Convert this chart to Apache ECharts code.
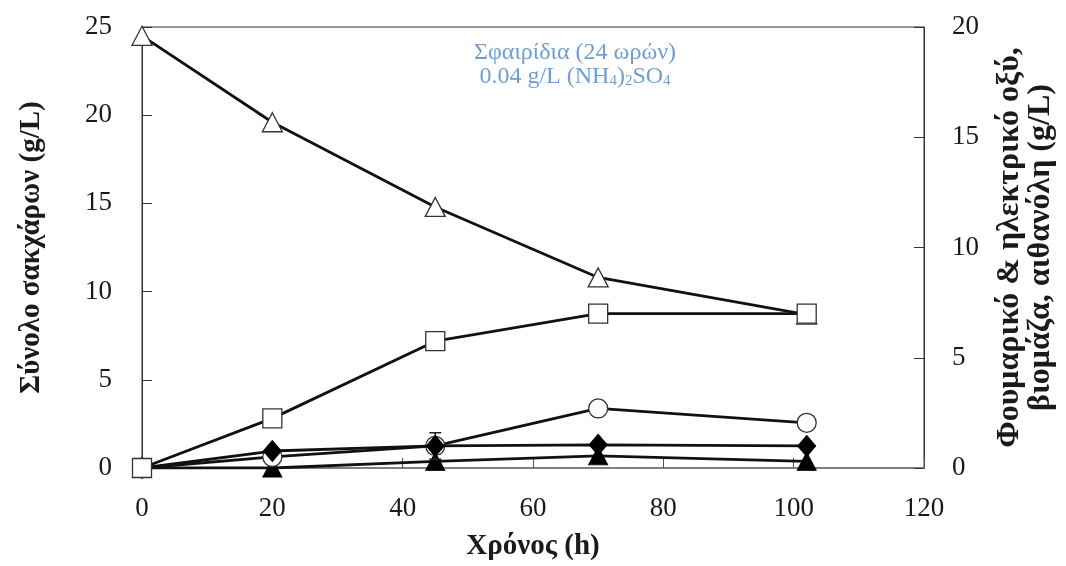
<!DOCTYPE html>
<html>
<head>
<meta charset="utf-8">
<script src="https://cdn.jsdelivr.net/npm/echarts@6/dist/echarts.min.js"></script>
<style>html,body{margin:0;padding:0;background:#fff;}#c{width:1066px;height:566px;}</style>
</head>
<body>
<div id="c"></div>
<script>
// Time points (h)
const timeH = [0, 20, 45, 70, 102];
// Left axis: total sugars (g/L) – open triangles
const totalSugars = [24.5, 19.6, 14.8, 10.8, 8.7];
// Right axis series (g/L)
const squaresSeries = [0, 2.25, 5.75, 7.0, 7.0];     // open squares
const circlesSeries = [0, 0.5, 1.0, 2.7, 2.05];      // open circles
const circlesErr = [0, 0, 0.6, 0, 0];                // error bars on circles
const diamondsSeries = [0, 0.77, 1.0, 1.05, 1.0];    // filled diamonds
const trianglesFilled = [0, 0, 0.3, 0.55, 0.3];      // filled triangles
// Ticks
const xTicks = {min: 0, max: 120, interval: 20};
const yLeftTicks = {min: 0, max: 25, interval: 5};
const yRightTicks = {min: 0, max: 20, interval: 5};

const pair = (xs, ys) => xs.map((x, i) => [x, ys[i]]);
const serif = 'Liberation Serif';
const lineCol = '#111';
const txt = '#1a1a1a';

const chart = echarts.init(document.getElementById('c'));
const errData = timeH.map((x, i) => [x, circlesSeries[i], circlesErr[i]]).filter(d => d[2] > 0);

chart.setOption({
  animation: false,
  backgroundColor: '#fff',
  title: {
    left: 570, top: 36, textAlign: 'center',
    text: '{a|Σφαιρίδια (24 ωρών)}\n{a|0.04 g/L (NH}{s|4}{a|)}{s|2}{a|SO}{s|4}',
    textStyle: {
      fontWeight: 'normal',
      rich: {
        a: {fontFamily: serif, fontSize: 24, fontWeight: 'normal', color: '#6f9fcf', lineHeight: 24},
        s: {fontFamily: serif, fontSize: 15, fontWeight: 'normal', color: '#6f9fcf', lineHeight: 10, verticalAlign: 'bottom'}
      }
    }
  },
  grid: {left: 142, right: 142, top: 27, bottom: 96, show: true, borderColor: '#333', borderWidth: 1},
  xAxis: {
    type: 'value', min: xTicks.min, max: xTicks.max, interval: xTicks.interval,
    name: 'Χρόνος (h)', nameLocation: 'middle', nameGap: 64,
    nameTextStyle: {fontFamily: serif, fontSize: 29, fontWeight: 'bold', color: txt},
    axisLine: {lineStyle: {color: '#777', width: 1.5}},
    axisTick: {inside: true, length: 10, lineStyle: {color: '#555'}},
    axisLabel: {fontFamily: serif, fontSize: 27, color: txt, margin: 27},
    splitLine: {show: false}
  },
  yAxis: [{
    type: 'value', position: 'left', min: yLeftTicks.min, max: yLeftTicks.max, interval: yLeftTicks.interval,
    name: 'Σύνολο σακχάρων (g/L)', nameLocation: 'middle', nameGap: 96, nameRotate: 90,
    nameTextStyle: {fontFamily: serif, fontSize: 29, fontWeight: 'bold', color: txt},
    axisLine: {show: true, lineStyle: {color: '#333', width: 1}},
    axisTick: {show: true, inside: true, length: 10, lineStyle: {color: '#333'}},
    axisLabel: {fontFamily: serif, fontSize: 27, color: txt, margin: 30},
    splitLine: {show: false}
  }, {
    type: 'value', position: 'right', min: yRightTicks.min, max: yRightTicks.max, interval: yRightTicks.interval,
    name: 'Φουμαρικό & ηλεκτρικό οξύ,\nβιομάζα, αιθανόλη (g/L)', nameLocation: 'middle', nameGap: 70, nameRotate: 90,
    nameTextStyle: {fontFamily: serif, fontSize: 32, fontWeight: 'bold', color: txt, lineHeight: 31},
    axisLine: {show: true, lineStyle: {color: '#333', width: 1}},
    axisTick: {show: true, inside: true, length: 10, lineStyle: {color: '#333'}},
    axisLabel: {fontFamily: serif, fontSize: 27, color: txt, margin: 28},
    splitLine: {show: false}
  }],
  series: [
    {
      type: 'line', yAxisIndex: 1, data: pair(timeH, trianglesFilled),
      symbol: 'triangle', symbolSize: [19, 18],
      lineStyle: {color: lineCol, width: 2.8},
      itemStyle: {color: '#000', borderColor: '#000', borderWidth: 1}, z: 2
    },
    {
      type: 'line', yAxisIndex: 1, data: pair(timeH, circlesSeries),
      symbol: 'circle', symbolSize: 19,
      lineStyle: {color: lineCol, width: 2.8},
      itemStyle: {color: '#fff', borderColor: '#333', borderWidth: 1.3}, z: 3
    },
    {
      type: 'custom', yAxisIndex: 1, data: errData, z: 4,
      renderItem: function (params, api) {
        const x = api.value(0), y = api.value(1), e = api.value(2);
        const top = api.coord([x, y + e]);
        const bot = api.coord([x, y - e]);
        const w = 6;
        const st = {stroke: '#222', lineWidth: 1.5};
        return {type: 'group', children: [
          {type: 'line', shape: {x1: top[0], y1: top[1], x2: bot[0], y2: bot[1]}, style: st},
          {type: 'line', shape: {x1: top[0] - w, y1: top[1], x2: top[0] + w, y2: top[1]}, style: st},
          {type: 'line', shape: {x1: bot[0] - w, y1: bot[1], x2: bot[0] + w, y2: bot[1]}, style: st}
        ]};
      }
    },
    {
      type: 'line', yAxisIndex: 1, data: pair(timeH, diamondsSeries),
      symbol: 'diamond', symbolSize: [18, 21],
      lineStyle: {color: lineCol, width: 2.8},
      itemStyle: {color: '#000', borderColor: '#000', borderWidth: 1}, z: 5
    },
    {
      type: 'line', yAxisIndex: 0, data: pair(timeH, totalSugars),
      symbol: 'triangle', symbolSize: [20, 19],
      lineStyle: {color: lineCol, width: 2.8},
      itemStyle: {color: '#fff', borderColor: '#333', borderWidth: 1.3}, z: 6
    },
    {
      type: 'line', yAxisIndex: 1, data: pair(timeH, squaresSeries),
      symbol: 'rect', symbolSize: 19,
      lineStyle: {color: lineCol, width: 2.8},
      itemStyle: {color: '#fff', borderColor: '#333', borderWidth: 1.3}, z: 7
    }
  ]
});
</script>
</body>
</html>
